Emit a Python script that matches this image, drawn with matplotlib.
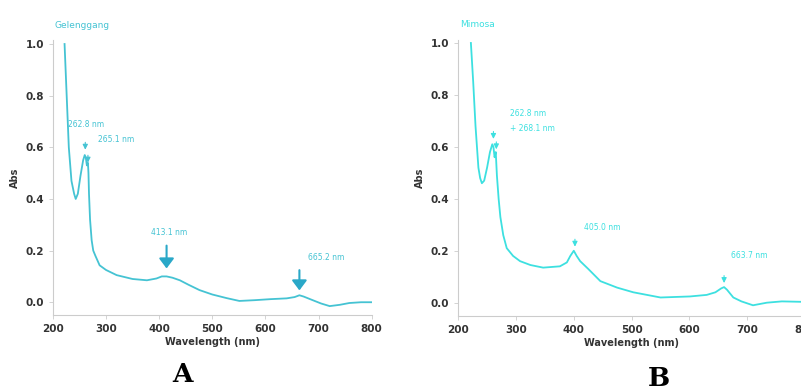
import numpy as np
import matplotlib.pyplot as plt

# panel A spectrum
wl_a = [222, 226, 230, 235, 240, 243, 247, 252, 257, 260, 262, 264, 266, 267, 268, 270, 273, 276, 280, 288,
        300, 320, 350, 377, 395, 405, 414, 425, 439, 455, 476, 500, 527, 551, 580, 610, 640, 655, 664, 672,
        689, 705, 721, 740, 758, 780, 800]
abs_a = [1.0, 0.80, 0.60, 0.47, 0.42, 0.40, 0.42, 0.49, 0.55, 0.57, 0.56, 0.53, 0.54, 0.50, 0.42, 0.32, 0.24, 0.20, 0.18, 0.143,
         0.125, 0.105, 0.09, 0.085, 0.092, 0.10, 0.10, 0.095, 0.085, 0.068, 0.047, 0.03, 0.016, 0.005, 0.008, 0.012, 0.015, 0.02, 0.027, 0.022,
         0.008, -0.005, -0.015, -0.01, -0.003, 0.0, 0.0]

# panel B spectrum
wl_b = [222, 226, 230, 235, 238, 241, 245, 250, 255, 259, 261, 263, 265, 267, 270, 273, 278, 284, 295, 307,
        325, 347, 376, 388, 394, 400, 405, 411, 425, 446, 475, 503, 550, 601, 630, 645, 655, 660, 665, 676,
        690, 710, 734, 760, 800]
abs_b = [1.0, 0.85, 0.68, 0.52, 0.48, 0.46, 0.47, 0.52, 0.58, 0.61, 0.60, 0.56, 0.58, 0.49, 0.40, 0.33, 0.26, 0.21, 0.18, 0.16,
         0.145, 0.135, 0.14, 0.155, 0.18, 0.20, 0.18, 0.16, 0.13, 0.083, 0.058, 0.04, 0.02, 0.024, 0.03, 0.04, 0.055, 0.06, 0.05, 0.02,
         0.005, -0.01, 0.0, 0.005, 0.003]

names = ["Gelenggang", "Mimosa"]
panel_letters = ["A", "B"]
xticks = [200, 300, 400, 500, 600, 700, 800]
yticks = [0.0, 0.2, 0.4, 0.6, 0.8, 1.0]

# (label, peak x, peak y, text x, text y, big arrow)
peaks_a = [("262.8 nm", 261, 0.58, 262, 0.69, False),
           ("265.1 nm", 266, 0.53, 285, 0.63, False),
           ("413.1 nm", 414, 0.12, 418, 0.27, True),
           ("665.2 nm", 664, 0.035, 680, 0.175, True)]
peaks_b = [("262.8 nm", 261, 0.62, 290, 0.73, False),
           ("+ 268.1 nm", 266, 0.58, 290, 0.67, False),
           ("405.0 nm", 402, 0.205, 418, 0.29, False),
           ("663.7 nm", 660, 0.065, 672, 0.18, False)]

fig = plt.figure(figsize=(8.01, 3.91), dpi=100)
ax_a = fig.add_axes([0.066, 0.194, 0.398, 0.704])
ax_b = fig.add_axes([0.572, 0.192, 0.433, 0.706])

colors = ["#45c3d3", "#3de0e0"]
ylims = [(-0.050, 1.016), (-0.051, 1.012)]

for ax, wl, ab, name, peaks, col, yl in zip([ax_a, ax_b], [wl_a, wl_b], [abs_a, abs_b], names,
                                             [peaks_a, peaks_b], colors, ylims):
    ax.plot(wl, ab, color=col, lw=1.3)
    ax.set_xlim(200, 800)
    ax.set_ylim(*yl)
    ax.set_xticks(xticks)
    ax.set_yticks(yticks)
    ax.set_yticklabels(["%.1f" % v for v in yticks])
    for s in ["top", "right"]:
        ax.spines[s].set_visible(False)
    for s in ["left", "bottom"]:
        ax.spines[s].set_color("#cccccc")
        ax.spines[s].set_linewidth(0.8)
    ax.tick_params(colors="#cccccc", labelcolor="#333333", labelsize=7.5, length=3, width=0.6)
    for t in ax.get_xticklabels() + ax.get_yticklabels():
        t.set_fontweight("bold")
    ax.set_xlabel("Wavelength (nm)", fontsize=7, fontweight="bold", color="#333333", labelpad=2)
    ax.set_ylabel("Abs", fontsize=7, fontweight="bold", color="#333333", labelpad=4)
    ax.text(204, 1.07, name, color=col, fontsize=6.5, ha="left", va="center", clip_on=False)
    for lab, px, py, tx, ty, big in peaks:
        ax.text(tx, ty, lab, color=col, fontsize=5.5, ha="left" if tx - px > 10 else "center", va="center")
        if big:
            ax.annotate("", xy=(px, py), xytext=(px, ty - 0.04),
                        arrowprops=dict(arrowstyle="-|>,head_width=0.45,head_length=0.6",
                                        color="#2aa8c8", lw=1.5))
        else:
            ax.annotate("", xy=(px, py), xytext=(px, py + 0.05),
                        arrowprops=dict(arrowstyle="-|>,head_width=0.15,head_length=0.3",
                                        color=col, lw=0.8))

fig.text(182 / 801, 1 - 375 / 391, panel_letters[0], fontsize=19, fontweight="bold",
         family="DejaVu Serif", ha="center", va="center")
fig.text(659 / 801, 1 - 378 / 391, panel_letters[1], fontsize=19, fontweight="bold",
         family="DejaVu Serif", ha="center", va="center")

plt.savefig("out.png", dpi=100)
